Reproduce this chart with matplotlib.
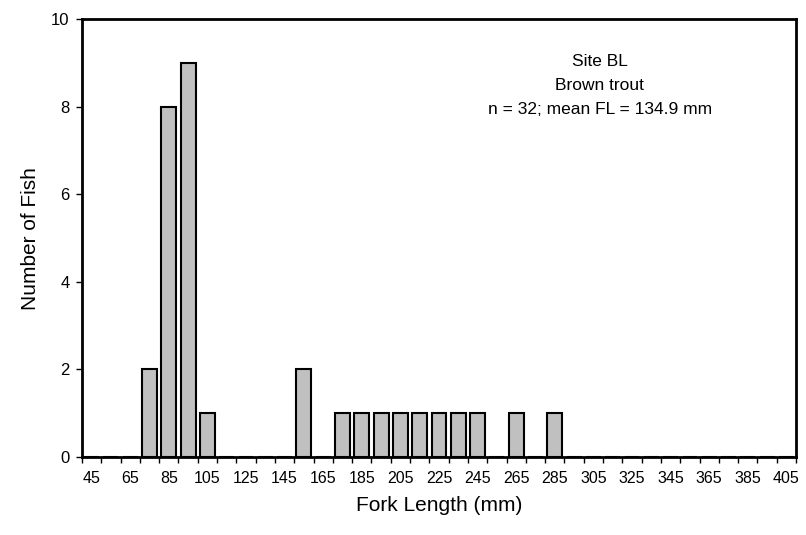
import numpy as np
import matplotlib.pyplot as plt

plt.rcParams['font.family'] = ['Liberation Sans', 'DejaVu Sans']

# Fork length classes (mm) and fish counts
lengths = [45, 55, 65, 75, 85, 95, 105, 115, 125, 135, 145, 155, 165, 175,
           185, 195, 205, 215, 225, 235, 245, 255, 265, 275, 285, 295, 305,
           315, 325, 335, 345, 355, 365, 375, 385, 395, 405]
counts = [0, 0, 0, 2, 8, 9, 1, 0, 0, 0, 0, 2, 0, 1,
          1, 1, 1, 1, 1, 1, 1, 0, 1, 0, 1, 0, 0,
          0, 0, 0, 0, 0, 0, 0, 0, 0, 0]
y_ticks = [0, 2, 4, 6, 8, 10]

fig = plt.figure(figsize=(8.06, 5.35), dpi=100)
ax = fig.add_axes([0.1017, 0.146, 0.886, 0.818])

x = np.arange(len(lengths))
ax.bar(x, counts, width=0.77, color='#C0C0C0', edgecolor='black', linewidth=1.5)

ax.set_xlim(-0.5, len(lengths) - 0.5)
ax.set_ylim(0, 10)

# labels on every other class, tick marks between classes
ax.set_xticks(x[::2])
ax.set_xticklabels([str(v) for v in lengths[::2]], fontsize=11.5)
ax.set_xticks(np.arange(len(lengths) + 1) - 0.5, minor=True)
ax.tick_params(axis='x', which='major', length=0, pad=10)
ax.tick_params(axis='x', which='minor', length=4, width=1, direction='out')

ax.set_yticks(y_ticks)
ax.tick_params(axis='y', length=4, width=1, direction='out', labelsize=12, pad=5)

for s in ax.spines.values():
    s.set_linewidth(2)

ax.set_xlabel('Fork Length (mm)', fontsize=15, labelpad=7)
ax.set_ylabel('Number of Fish', fontsize=15, labelpad=8)

ax.text(0.725, 0.92, 'Site BL\nBrown trout\nn = 32; mean FL = 134.9 mm',
        transform=ax.transAxes, ha='center', va='top', fontsize=12.5,
        linespacing=1.75)

fig.savefig('out.png', dpi=100)
